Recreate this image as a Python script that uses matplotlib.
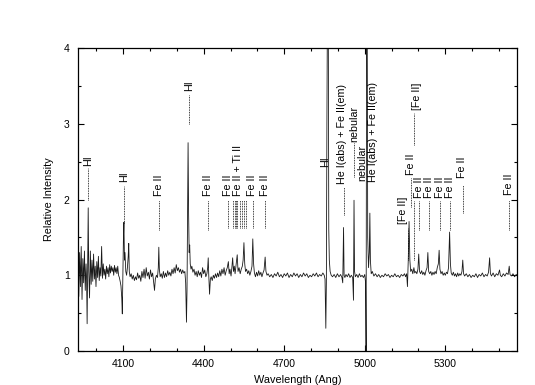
import matplotlib
matplotlib.use('Agg')
import matplotlib.pyplot as plt
from matplotlib.ticker import FixedLocator, MultipleLocator

plt.rcParams['font.family'] = ['Liberation Sans', 'DejaVu Sans']

# spectrum
wave_blue = [3932, 3935, 3938, 3941, 3944, 3947, 3950, 3953, 3956, 3959, 3962,
             3964, 3966, 3968, 3970, 3972, 3975,
             3978, 3981, 3984, 3987, 3990, 3993, 3996, 3999, 4002, 4005, 4008,
             4011, 4014, 4017, 4020, 4023, 4026, 4029, 4032, 4035, 4038, 4041,
             4044, 4047, 4050, 4053, 4056, 4059, 4062, 4065, 4068, 4071, 4074,
             4077, 4080, 4083, 4086, 4089, 4092,
             4095, 4097, 4099, 4101, 4103, 4105, 4107, 4110,
             4113, 4116, 4119, 4121, 4123, 4126]
flux_blue = [1.05, 0.72, 1.30, 0.85, 1.38, 0.68, 1.22, 0.90, 1.32, 0.80, 1.15,
             0.95, 0.36, 1.10, 1.89, 1.05, 0.70,
             1.32, 0.88, 1.20, 0.92, 1.28, 0.95, 1.12, 0.85, 1.18, 0.97, 1.25,
             0.93, 1.10, 0.99, 1.38, 0.96, 1.15, 1.00, 1.08, 0.95, 1.12, 1.02,
             1.10, 0.98, 1.14, 1.03, 1.12, 1.05, 1.10, 1.00, 1.13, 1.04, 1.10,
             1.02, 1.12, 1.00, 0.97, 0.92, 0.86,
             0.70, 0.49, 0.95, 1.45, 1.70, 1.20, 1.30, 1.05,
             1.00, 1.10, 1.25, 1.42, 1.05, 0.98]

wave_mid = [4130, 4134, 4138, 4142, 4146, 4150, 4154, 4158, 4162, 4166, 4170,
            4174, 4178, 4182, 4186, 4190, 4194, 4198, 4202, 4206, 4210, 4214,
            4217, 4220, 4224, 4228, 4231, 4233, 4235, 4238,
            4242, 4246, 4250, 4254, 4258, 4262, 4266, 4270, 4274, 4278, 4282,
            4286, 4290, 4294, 4298, 4302, 4306, 4310, 4314, 4318, 4322, 4326,
            4330, 4333,
            4336, 4338, 4340, 4342, 4344, 4346, 4348, 4350, 4353, 4356, 4360,
            4364, 4368, 4372, 4376, 4380, 4384, 4388, 4392, 4396, 4400, 4404,
            4408, 4412, 4415, 4417, 4419, 4422, 4425, 4428, 4432, 4436, 4440,
            4444, 4448, 4452, 4456, 4460, 4464, 4468, 4472, 4476, 4480]
flux_mid = [1.02, 0.95, 1.00, 0.93, 0.98, 0.94, 1.03, 0.96, 1.00, 0.92, 1.05,
            0.97, 1.08, 0.96, 1.10, 0.99, 1.04, 0.95, 1.07, 0.98, 1.03, 0.90,
            0.80, 0.95, 1.00, 0.97, 1.10, 1.37, 1.08, 0.98,
            1.02, 0.96, 1.05, 0.97, 1.03, 0.98, 1.06, 1.00, 1.04, 0.99, 1.08,
            1.02, 1.10, 1.03, 1.14, 1.06, 1.10, 1.04, 1.08, 1.02, 1.07, 1.03,
            1.05, 0.90,
            0.38, 0.80, 1.70, 2.75, 1.80, 1.30, 1.40, 1.15, 1.08, 1.12, 1.04,
            1.08, 1.00, 1.05, 0.98, 1.06, 1.00, 1.04, 0.97, 1.10, 1.02, 1.07,
            0.98, 1.02, 1.10, 1.23, 1.00, 0.75, 0.95, 0.98, 0.93, 1.00, 0.96,
            1.02, 0.97, 1.03, 0.98, 1.06, 0.99, 1.08, 1.02, 1.10, 1.00]

wave_feii = [4484, 4488, 4492, 4495, 4498, 4502, 4505, 4508, 4511, 4514, 4517,
             4521, 4525, 4528, 4532, 4536, 4540, 4544, 4547, 4550, 4553, 4556,
             4560, 4564, 4568, 4572, 4576, 4580, 4583, 4586, 4589, 4593, 4597,
             4601, 4605, 4609, 4613, 4617, 4621, 4625, 4629, 4632, 4636]
flux_feii = [1.06, 1.10, 1.18, 1.02, 1.08, 0.99, 1.10, 1.23, 1.05, 1.12, 1.02,
             1.15, 1.27, 1.05, 1.10, 1.02, 1.08, 1.12, 1.20, 1.43, 1.15, 1.05,
             1.08, 1.02, 1.06, 1.00, 1.05, 1.12, 1.48, 1.15, 1.03, 0.98, 1.04,
             0.99, 1.06, 1.00, 1.04, 0.98, 1.03, 1.07, 1.24, 1.05, 1.00]

wave_hb = [4640, 4646, 4652, 4658, 4664, 4670, 4676, 4682, 4688, 4694, 4700,
           4706, 4712, 4718, 4724, 4730, 4736, 4742, 4748, 4754, 4760, 4766,
           4772, 4778, 4784, 4790, 4796, 4802, 4808, 4814, 4820, 4826, 4832,
           4838, 4844, 4849,
           4852, 4855, 4857, 4859, 4861, 4864, 4866, 4868, 4871, 4875,
           4880, 4886, 4892, 4898, 4904, 4910, 4915, 4918, 4921, 4923, 4926,
           4930, 4935, 4940, 4945, 4950, 4955, 4958, 4960, 4962, 4965, 4970,
           4975, 4980, 4985, 4990, 4995, 5000, 5003, 5005, 5007, 5009, 5011,
           5014, 5017, 5019, 5021, 5024, 5028]
flux_hb = [1.02, 0.98, 1.01, 0.97, 1.02, 0.99, 1.04, 0.98, 1.01, 0.97, 1.02,
           0.99, 1.03, 0.97, 1.01, 0.98, 1.03, 0.99, 1.02, 0.97, 1.01, 0.98,
           1.03, 0.99, 1.02, 0.97, 1.00, 0.98, 1.02, 0.99, 1.03, 0.98, 1.01,
           0.99, 1.03, 1.00,
           0.95, 0.30, 0.90, 3.00, 4.60, 4.60, 1.60, 1.20, 1.05, 1.00,
           0.98, 1.01, 0.97, 1.02, 0.98, 1.01, 0.97, 0.90, 1.63, 1.00, 0.97,
           1.01, 0.98, 1.02, 0.97, 1.00, 0.97, 0.67, 1.99, 1.05, 0.98, 1.01,
           0.97, 1.02, 0.98, 1.00, 0.97, 1.01, 0.90, 0.00, 4.60, 4.60, 1.50,
           1.10, 1.30, 1.82, 1.20, 1.02, 1.05]

wave_red = [5034, 5040, 5046, 5052, 5058, 5064, 5070, 5076, 5082, 5088, 5094,
            5100, 5106, 5112, 5118, 5124, 5130, 5136, 5142, 5148,
            5152, 5156, 5159, 5162, 5165, 5168, 5171, 5175, 5179, 5183, 5186,
            5190, 5194, 5198, 5201, 5204, 5208, 5212, 5216, 5220, 5224, 5228,
            5232, 5235, 5238, 5242, 5246, 5250, 5254, 5258, 5262, 5266, 5270,
            5274, 5277, 5280, 5284, 5288, 5292, 5296, 5300, 5304, 5308, 5312,
            5316, 5319, 5322, 5326, 5330, 5334, 5338, 5342, 5346, 5350, 5354,
            5358, 5362, 5365, 5368,
            5372, 5378, 5384, 5390, 5396, 5402, 5408, 5414, 5420, 5426, 5432,
            5438, 5444, 5450, 5456, 5461, 5465, 5468, 5472, 5478, 5484, 5490,
            5496, 5502, 5505, 5510, 5516, 5522, 5528, 5534, 5538, 5541, 5546,
            5552, 5558, 5564, 5567]
flux_red = [0.99, 1.02, 0.98, 1.01, 0.97, 1.00, 0.98, 1.02, 0.99, 1.01, 0.97,
            1.00, 0.98, 1.02, 0.98, 1.00, 0.97, 1.01, 0.99, 1.02,
            0.98, 1.02, 0.85, 1.20, 1.71, 1.20, 1.05, 1.08, 1.02, 1.10, 1.03,
            1.05, 1.02, 1.08, 1.28, 1.05, 1.02, 1.06, 1.01, 1.04, 1.00, 1.06,
            1.10, 1.30, 1.05, 1.02, 1.05, 1.00, 1.04, 1.01, 1.05, 1.02, 1.10,
            1.15, 1.33, 1.08, 1.02, 1.05, 1.00, 1.03, 1.00, 1.04, 1.02, 1.10,
            1.57, 1.15, 1.03, 1.00, 1.04, 0.99, 1.02, 0.98, 1.03, 0.99, 1.02,
            1.00, 1.05, 1.20, 1.02,
            0.99, 1.02, 0.98, 1.01, 0.97, 1.00, 0.98, 1.02, 0.97, 1.01, 0.99,
            1.03, 0.98, 1.01, 0.99, 1.04, 1.23, 1.02, 0.99, 1.03, 0.98, 1.02,
            1.00, 1.07, 1.00, 0.98, 1.02, 0.99, 1.03, 1.01, 1.12, 1.01, 0.99,
            1.02, 0.98, 1.01, 1.00]

wave = wave_blue + wave_mid + wave_feii + wave_hb + wave_red
flux = flux_blue + flux_mid + flux_feii + flux_hb + flux_red

# line identifications: text, text x, text bottom y
label_text = ['HI', 'HI', 'Fe II', 'HI', 'Fe II',
              'Fe II', 'Fe II + Ti II', 'Fe II', 'Fe II',
              'HI', 'He I(abs) + Fe II(em)', 'nebular', 'nebular',
              'He I(abs) + Fe II(em)',
              '[Fe II]', 'Fe II', '[Fe II]',
              'Fe II', 'Fe II', 'Fe II', 'Fe II', 'Fe II', 'Fe II']
label_x = [3970, 4102, 4234, 4345, 4418,
           4492, 4529, 4580, 4629,
           4853, 4916, 4961, 4989,
           5029,
           5143, 5172, 5194,
           5201, 5238, 5279, 5317, 5362, 5538]
label_y = [2.44, 2.23, 2.05, 3.43, 2.05,
           2.05, 2.05, 2.05, 2.05,
           2.43, 2.20, 2.76, 2.25,
           2.23,
           1.68, 2.33, 3.18,
           2.02, 2.02, 2.02, 2.02, 2.28, 2.06]

# dotted marker lines: x, lower end, upper end
mark_x = [3970, 4102, 4234, 4345, 4418,
          4490, 4508, 4515, 4520, 4523, 4534, 4541, 4549, 4556, 4583, 4629,
          4923, 4961,
          5160, 5172, 5185, 5185,
          5201, 5238, 5279, 5317, 5367, 5538]
mark_lo = [2.00, 1.69, 1.60, 3.00, 1.60,
           1.62, 1.62, 1.62, 1.62, 1.62, 1.62, 1.62, 1.62, 1.62, 1.62, 1.62,
           1.80, 2.30,
           1.20, 1.90, 1.20, 2.72,
           1.60, 1.60, 1.60, 1.60, 1.82, 1.60]
mark_hi = [2.41, 2.18, 2.00, 3.38, 2.00,
           2.00, 2.00, 2.00, 2.00, 2.00, 2.00, 2.00, 2.00, 2.00, 2.00, 2.00,
           2.17, 2.74,
           1.62, 2.29, 1.98, 3.14,
           1.98, 1.98, 1.98, 1.98, 2.19, 1.99]

fig = plt.figure(figsize=(5.35, 3.85), dpi=100)
ax = fig.add_axes([78 / 535, 34 / 385, 439 / 535, 303 / 385])

ax.plot(wave, flux, color='#1a1a1a', lw=0.6)

for x, lo, hi in zip(mark_x, mark_lo, mark_hi):
    ax.plot([x, x], [lo, hi], color='black', lw=0.6, ls=(0, (1, 1)))

for t, x, y in zip(label_text, label_x, label_y):
    ax.text(x, y, t, rotation=90, ha='center', va='bottom', fontsize=7.7)

ax.set_xlim(3932, 5567)
ax.set_ylim(0, 4)
ax.xaxis.set_major_locator(FixedLocator([4100, 4400, 4700, 5000, 5300]))
ax.xaxis.set_minor_locator(MultipleLocator(100))
ax.yaxis.set_major_locator(MultipleLocator(1))
ax.yaxis.set_minor_locator(MultipleLocator(0.5))
ax.tick_params(which='both', direction='in', top=True, right=True,
               labelsize=7.5, width=0.8)
ax.tick_params(which='major', length=4, pad=6)
ax.tick_params(which='minor', length=2)
for s in ax.spines.values():
    s.set_linewidth(0.9)

ax.set_xlabel('Wavelength (Ang)', fontsize=7.8, labelpad=4)
ax.set_ylabel('Relative Intensity', fontsize=7.8, labelpad=7)

fig.savefig('out.png', dpi=100)
